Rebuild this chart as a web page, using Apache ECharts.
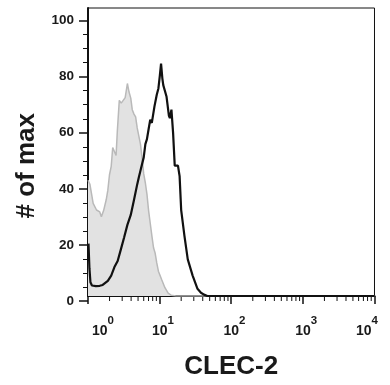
<!DOCTYPE html>
<html>
<head>
<meta charset="utf-8">
<script src="https://cdn.jsdelivr.net/npm/echarts@6/dist/echarts.min.js"></script>
<style>html,body{margin:0;padding:0;background:#fff}#c{width:390px;height:385px}</style>
</head>
<body>
<div id="c"></div>
<script>
// x positions are in decades (log10 of CLEC-2 fluorescence), y is % of max
const isoDecade = [0, 0.027, 0.072, 0.119, 0.164, 0.187, 0.218, 0.255, 0.277, 0.300, 0.324, 0.345, 0.369, 0.392, 0.410, 0.437, 0.464, 0.491, 0.519, 0.550, 0.573, 0.597, 0.618, 0.642, 0.665, 0.687, 0.710, 0.733, 0.755, 0.778, 0.801, 0.823, 0.846, 0.869, 0.891, 0.915, 0.938, 0.960, 0.983, 1.028, 1.074, 1.119, 1.160, 1.229, 4.0];
const isoCount  = [42, 40.5, 33.6, 31.2, 30.5, 28.8, 31, 35, 38.4, 44, 47, 53.9, 54, 51, 60, 71, 70, 69.4, 72, 77.1, 74, 71.8, 67.6, 66, 65, 61, 58, 55, 50, 44.3, 41, 37, 31, 26.4, 22, 17.5, 15.5, 12, 9, 6, 3, 1, 0.3, 0, 0];

const clecDecade = [0.007, 0.020, 0.034, 0.055, 0.109, 0.164, 0.205, 0.232, 0.277, 0.324, 0.369, 0.414, 0.460, 0.505, 0.550, 0.597, 0.642, 0.687, 0.710, 0.733, 0.778, 0.801, 0.823, 0.846, 0.869, 0.891, 0.928, 0.960, 0.983, 1.003, 1.020, 1.038, 1.051, 1.096, 1.129, 1.143, 1.165, 1.188, 1.211, 1.235, 1.256, 1.279, 1.301, 1.347, 1.393, 1.461, 1.529, 1.577, 1.620, 1.666, 4.0];
const clecCount  = [19, 10, 5, 3.8, 3.6, 3.7, 4, 4.5, 5.5, 7.4, 10.5, 12.7, 17, 21.3, 25.8, 29.4, 34.8, 40.5, 43.1, 45.5, 50.3, 55.1, 56.9, 60.5, 64.0, 62.8, 68.8, 73.0, 75.3, 80, 84.3, 79, 76.5, 72.4, 65.5, 64.6, 67.6, 59.2, 47.3, 48, 47.3, 43.5, 31.2, 21.7, 13.3, 7.4, 2.6, 1.2, 0.5, 0, 0];

const xTickValues = [0, 1, 2, 3, 4];
const xTickExponents = ['0', '1', '2', '3', '4'];
const yTickValues = [0, 20, 40, 60, 80, 100];
const minorMultipliers = [2, 3, 4, 5, 6, 7, 8, 9];

const yMax = 104.5;
const gridBottomPx = 385 - 84;
const gridTopPx = 8;
const tickGridTop = gridBottomPx - (gridBottomPx - gridTopPx) * 100 / yMax;

const minorTicks = [];
for (let d = 0; d < 4; d++) for (const m of minorMultipliers) minorTicks.push([d + Math.log10(m), 0]);

const FONT = '"Liberation Sans", Arial, sans-serif';
const TXT = '#1a1a1a';

const chart = echarts.init(document.getElementById('c'), null, {renderer: 'canvas'});
chart.setOption({
  animation: false,
  backgroundColor: '#fff',
  grid: [
    {left: 88, right: 9, top: gridTopPx, bottom: 84, show: true, borderColor: '#111', borderWidth: 1, backgroundColor: 'transparent'},
    {left: 88, right: 9, top: tickGridTop, bottom: 84, show: false}
  ],
  xAxis: [
    {
      gridIndex: 0, type: 'value', min: 0, max: 4, interval: 1,
      name: 'CLEC-2', nameLocation: 'middle', nameGap: 58,
      nameTextStyle: {fontFamily: FONT, fontWeight: 'bold', fontSize: 26, color: TXT},
      axisLine: {show: true, onZero: false, lineStyle: {color: '#111', width: 2}},
      axisTick: {show: true, length: 8, lineStyle: {color: '#111', width: 1.5}},
      splitLine: {show: false},
      axisLabel: {
        show: true, margin: 28, showMinLabel: true, showMaxLabel: true, color: TXT,
        formatter: function (v) {
          const i = xTickValues.indexOf(Math.round(v));
          const e = xTickExponents[i];
          if (i === 0) return '{p0| }{b|10}{s|' + e + '}';
          if (i === xTickValues.length - 1) return '{b|10}{s|' + e + '}{p4| }';
          return '{p| }{b|10}{s|' + e + '}';
        },
        rich: {
          b: {fontFamily: FONT, fontWeight: 'bold', fontSize: 14, lineHeight: 14, color: TXT},
          s: {fontFamily: FONT, fontWeight: 'bold', fontSize: 11.5, lineHeight: 11, color: TXT, padding: [0, 0, 20, 0]},
          p: {width: 6.5, fontSize: 11},
          p0: {width: 30, fontSize: 11},
          p4: {width: 15, fontSize: 11}
        }
      }
    },
    {gridIndex: 1, type: 'value', min: 0, max: 4, show: false}
  ],
  yAxis: [
    {
      gridIndex: 0, type: 'value', min: 0, max: yMax,
      axisLine: {show: true, onZero: false, lineStyle: {color: '#111', width: 2}},
      axisTick: {show: false}, axisLabel: {show: false}, splitLine: {show: false}
    },
    {
      gridIndex: 1, type: 'value', min: 0, max: 100, interval: 20,
      name: '# of max', nameLocation: 'middle', nameGap: 48,
      nameTextStyle: {fontFamily: FONT, fontWeight: 'bold', fontSize: 26, color: TXT, padding: [0, 10, 0, 0]},
      axisLine: {show: false},
      axisTick: {show: true, length: 9, lineStyle: {color: '#111', width: 1.5}},
      minorTick: {show: true, splitNumber: 4, length: 5, lineStyle: {color: '#111', width: 1}},
      splitLine: {show: false}, minorSplitLine: {show: false},
      axisLabel: {
        margin: 14, fontFamily: FONT, fontWeight: 'bold', fontSize: 13.5, color: TXT,
        formatter: function (v) { return yTickValues.indexOf(v) >= 0 ? String(v) : ''; }
      }
    }
  ],
  series: [
    {
      type: 'line', xAxisIndex: 0, yAxisIndex: 0, showSymbol: false, symbol: 'none',
      data: isoDecade.map((x, i) => [x, isoCount[i]]),
      lineStyle: {color: '#b9b9b9', width: 1.5},
      areaStyle: {color: '#e2e2e2', opacity: 1},
      z: 2
    },
    {
      type: 'line', xAxisIndex: 0, yAxisIndex: 0, showSymbol: false, symbol: 'none',
      data: clecDecade.map((x, i) => [x, clecCount[i]]),
      lineStyle: {color: '#111', width: 2.2},
      z: 3
    },
    {
      type: 'custom', xAxisIndex: 0, yAxisIndex: 0, clip: false, silent: true,
      data: minorTicks,
      renderItem: function (params, api) {
        const p = api.coord([api.value(0), 0]);
        return {type: 'line', shape: {x1: p[0], y1: p[1] + 1, x2: p[0], y2: p[1] + 5}, style: {stroke: '#111', lineWidth: 1}};
      },
      z: 4
    }
  ]
});
</script>
</body>
</html>
